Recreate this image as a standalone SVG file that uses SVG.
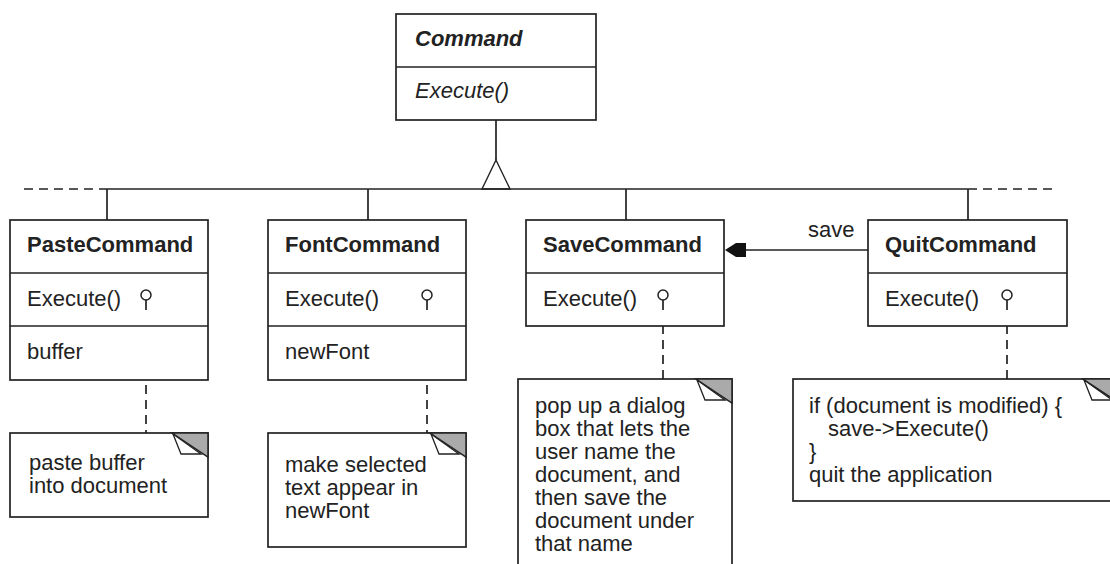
<svg xmlns="http://www.w3.org/2000/svg" width="1110" height="564" viewBox="0 0 1110 564">
<defs>
<style>
.box{fill:#fff;stroke:#222;stroke-width:1.7}
.ln{stroke:#222;stroke-width:1.7;fill:none}
.dash{stroke:#222;stroke-width:1.7;fill:none;stroke-dasharray:9,6}
.t{font-family:"Liberation Sans",Arial,sans-serif;font-size:22px;fill:#222}
.b{font-weight:bold}
.i{font-style:italic}
.fold{fill:#aaa;stroke:#222;stroke-width:1.5}
.flap{fill:#fff;stroke:#222;stroke-width:1.3}
</style>
<g id="foldshape">
<polygon class="fold" points="0,0 36,0 36,24"/>
<polygon class="flap" points="1,1 9,21 29,21"/>
</g>
<g id="pin">
<circle cx="0" cy="0" r="5" fill="#fff" stroke="#222" stroke-width="1.5"/>
<line x1="0" y1="5" x2="0" y2="15" stroke="#222" stroke-width="1.7"/>
</g>
</defs>
<rect width="1110" height="564" fill="#fff"/>

<g id="connectors">
<line class="ln" x1="496" y1="120" x2="496" y2="160"/>
<polygon points="496,160 482,189 510,189" fill="#fff" stroke="#222" stroke-width="1.4"/>
<line class="ln" x1="107" y1="189" x2="968" y2="189"/>
<line class="dash" x1="24" y1="189" x2="107" y2="189"/>
<line class="dash" x1="968" y1="189" x2="1054" y2="189"/>
<line class="ln" x1="107" y1="189" x2="107" y2="220"/>
<line class="ln" x1="368" y1="189" x2="368" y2="220"/>
<line class="ln" x1="626" y1="189" x2="626" y2="220"/>
<line class="ln" x1="968" y1="189" x2="968" y2="220"/>
<line class="ln" x1="740" y1="250" x2="868" y2="250"/>
<path d="M725,250 L736,243 L746,243 L746,257 L736,257 Z" fill="#111"/>
<text class="t" x="808" y="237">save</text>
<line class="dash" x1="146" y1="310" x2="146" y2="433"/>
<line class="dash" x1="427" y1="310" x2="427" y2="433"/>
<line class="dash" x1="663" y1="310" x2="663" y2="379"/>
<line class="dash" x1="1007" y1="310" x2="1007" y2="379"/>
</g>

<g id="Command">
<rect class="box" x="396" y="14" width="200" height="106"/>
<line class="ln" x1="396" y1="67" x2="596" y2="67"/>
<text class="t b i" x="415" y="46">Command</text>
<text class="t i" x="415" y="98">Execute()</text>
</g>

<g id="PasteCommand">
<rect class="box" x="10" y="220" width="198" height="160"/>
<line class="ln" x1="10" y1="273" x2="208" y2="273"/>
<line class="ln" x1="10" y1="326" x2="208" y2="326"/>
<text class="t b" x="27" y="252">PasteCommand</text>
<text class="t" x="27" y="306">Execute()</text>
<text class="t" x="27" y="359">buffer</text>
<use href="#pin" x="146" y="295"/>
</g>

<g id="FontCommand">
<rect class="box" x="268" y="220" width="198" height="160"/>
<line class="ln" x1="268" y1="273" x2="466" y2="273"/>
<line class="ln" x1="268" y1="326" x2="466" y2="326"/>
<text class="t b" x="285" y="252">FontCommand</text>
<text class="t" x="285" y="306">Execute()</text>
<text class="t" x="285" y="359">newFont</text>
<use href="#pin" x="427" y="295"/>
</g>

<g id="SaveCommand">
<rect class="box" x="526" y="220" width="198" height="106"/>
<line class="ln" x1="526" y1="273" x2="724" y2="273"/>
<text class="t b" x="543" y="252">SaveCommand</text>
<text class="t" x="543" y="306">Execute()</text>
<use href="#pin" x="663" y="295"/>
</g>

<g id="QuitCommand">
<rect class="box" x="868" y="220" width="199" height="106"/>
<line class="ln" x1="868" y1="273" x2="1067" y2="273"/>
<text class="t b" x="885" y="252">QuitCommand</text>
<text class="t" x="885" y="306">Execute()</text>
<use href="#pin" x="1007" y="295"/>
</g>

<g id="notePaste">
<rect class="box" x="10" y="433" width="198" height="84"/>
<use href="#foldshape" x="172" y="433"/>
<text class="t" x="29" y="470">paste buffer</text>
<text class="t" x="29" y="493">into document</text>
</g>

<g id="noteFont">
<rect class="box" x="268" y="433" width="198" height="114"/>
<use href="#foldshape" x="430" y="433"/>
<text class="t" x="285" y="472">make selected</text>
<text class="t" x="285" y="495">text appear in</text>
<text class="t" x="285" y="518">newFont</text>
</g>

<g id="noteSave">
<rect class="box" x="518" y="379" width="214" height="200"/>
<use href="#foldshape" x="696" y="379"/>
<text class="t" x="535" y="413">pop up a dialog</text>
<text class="t" x="535" y="436">box that lets the</text>
<text class="t" x="535" y="459">user name the</text>
<text class="t" x="535" y="482">document, and</text>
<text class="t" x="535" y="505">then save the</text>
<text class="t" x="535" y="528">document under</text>
<text class="t" x="535" y="551">that name</text>
</g>

<g id="noteQuit">
<rect class="box" x="793" y="379" width="326" height="122"/>
<use href="#foldshape" x="1083" y="379"/>
<text class="t" x="809" y="413">if (document is modified) {</text>
<text class="t" x="828" y="436">save-&gt;Execute()</text>
<text class="t" x="809" y="459">}</text>
<text class="t" x="809" y="482">quit the application</text>
</g>
</svg>
